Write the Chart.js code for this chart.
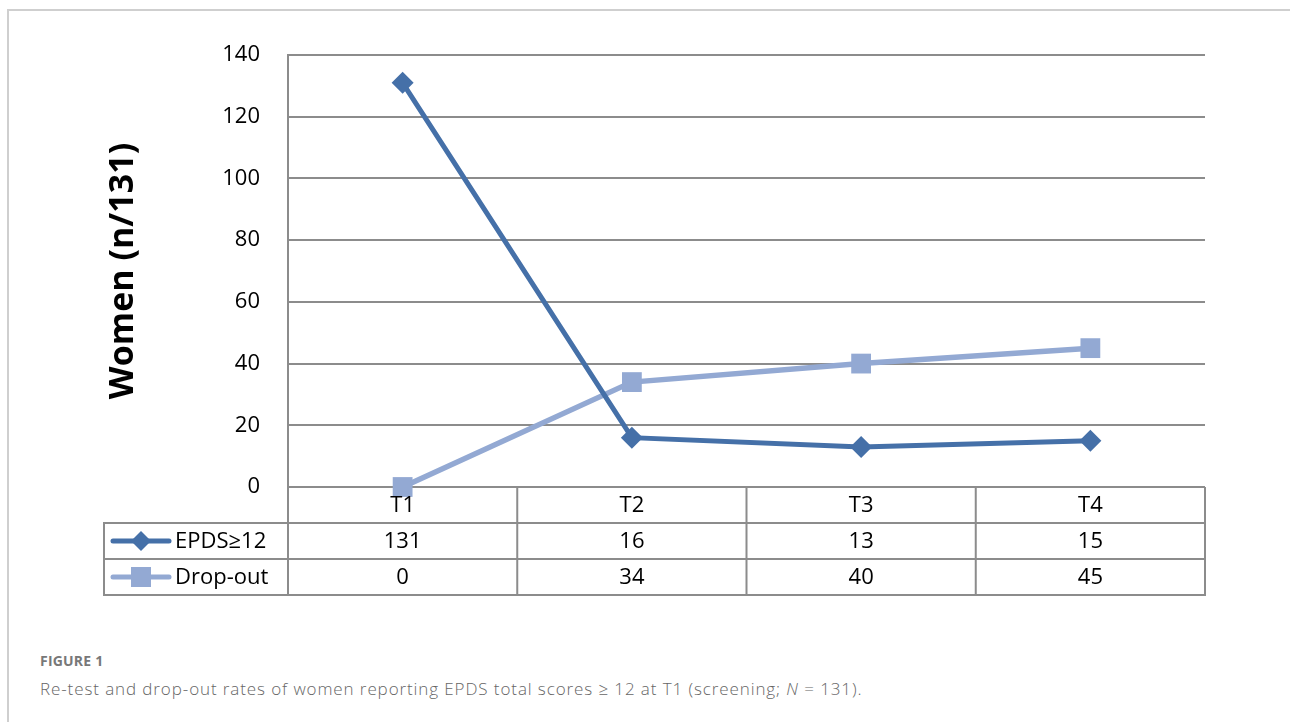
<!DOCTYPE html>
<html>
<head>
<meta charset="utf-8">
<script src="https://cdn.jsdelivr.net/npm/chart.js@4.4.1/dist/chart.umd.min.js"></script>
<style>
  html, body { margin: 0; padding: 0; background: #fff; width: 1290px; height: 722px; overflow: hidden; }
  #frame { position: absolute; left: 7px; top: 9px; width: 1320px; height: 800px;
           border-top: 2px solid #cfcfcf; border-left: 2px solid #cfcfcf; }
  #wrap { position: absolute; left: 0; top: 0; width: 1290px; height: 620px; }
  #fig { position: absolute; left: 40px; top: 651px; font: 700 14px 'Open Sans', sans-serif;
         color: #787878; letter-spacing: 0.2px; }
  #cap { position: absolute; left: 40px; top: 677px; font: 300 17px 'Open Sans', sans-serif;
         color: #666; white-space: nowrap; letter-spacing: 0.9px; }
</style>
</head>
<body>
<div id="frame"></div>
<div id="wrap"><canvas id="c" width="1290" height="620"></canvas></div>
<div id="fig">FIGURE 1</div>
<div id="cap">Re-test and drop-out rates of women reporting EPDS total scores ≥ 12 at T1 (screening; <i>N</i> = 131).</div>
<script>
// ---- data ----
const categories = ['T1', 'T2', 'T3', 'T4'];
const epdsValues = [131, 16, 13, 15];
const dropoutValues = [0, 34, 40, 45];
const seriesNames = ['EPDS≥12', 'Drop-out'];
const yMin = 0, yMax = 140, yStep = 20;
const yTitle = 'Women (n/131)';

const darkBlue = '#4570a8';
const lightBlue = '#93a9d3';
const lineGray = '#8c8c8c';
const FONT = "'Open Sans', sans-serif";

const tablePlugin = {
  id: 'dataTable',
  afterDraw(chart) {
    const ctx = chart.ctx;
    const xs = chart.scales.x, ys = chart.scales.y;
    const area = chart.chartArea;
    const top = ys.getPixelForValue(yMin);
    const rowH = 36;
    const legendLeft = 104;
    const colW = (area.right - area.left) / categories.length;
    const rows = [top, top + rowH, top + 2 * rowH, top + 3 * rowH];
    ctx.save();
    ctx.strokeStyle = lineGray;
    ctx.lineWidth = 2;
    ctx.beginPath();
    for (let r = 1; r < rows.length; r++) {
      ctx.moveTo(legendLeft, rows[r]);
      ctx.lineTo(area.right + 1, rows[r]);
    }
    for (let i = 0; i <= categories.length; i++) {
      const x = area.left + i * colW;
      ctx.moveTo(x, top);
      ctx.lineTo(x, rows[3] + 1);
    }
    ctx.moveTo(legendLeft, rows[1] - 1);
    ctx.lineTo(legendLeft, rows[3] + 1);
    ctx.stroke();

    ctx.fillStyle = '#000';
    ctx.font = '22px ' + FONT;
    ctx.textAlign = 'center';
    ctx.textBaseline = 'middle';
    const series = [epdsValues, dropoutValues];
    categories.forEach((c, i) => {
      const x = xs.getPixelForValue(i);
      ctx.fillText(c, x, (rows[0] + rows[1]) / 2 + 1);
      series.forEach((vals, s) => {
        ctx.fillText(String(vals[i]), x, (rows[s + 1] + rows[s + 2]) / 2 + 1);
      });
    });

    const colors = [darkBlue, lightBlue];
    seriesNames.forEach((name, s) => {
      const cy = (rows[s + 1] + rows[s + 2]) / 2;
      ctx.strokeStyle = colors[s];
      ctx.lineWidth = 5;
      ctx.lineCap = 'round';
      ctx.beginPath();
      ctx.moveTo(113, cy);
      ctx.lineTo(169, cy);
      ctx.stroke();
      ctx.fillStyle = colors[s];
      ctx.beginPath();
      if (s === 0) {
        const r = 10;
        ctx.moveTo(141, cy - r); ctx.lineTo(141 + r, cy); ctx.lineTo(141, cy + r); ctx.lineTo(141 - r, cy);
        ctx.closePath();
      } else {
        ctx.rect(141 - 10, cy - 10, 20, 20);
      }
      ctx.fill();
      ctx.fillStyle = '#000';
      ctx.textAlign = 'left';
      ctx.fillText(name, 175, cy + 1);
    });
    ctx.restore();
  }
};

new Chart(document.getElementById('c'), {
  type: 'line',
  data: {
    labels: categories,
    datasets: [
      {
        label: seriesNames[0], data: epdsValues,
        borderColor: darkBlue, backgroundColor: darkBlue, borderWidth: 5,
        pointStyle: 'rectRot', pointRadius: 11, pointBorderWidth: 0,
        pointBackgroundColor: darkBlue, tension: 0, clip: false
      },
      {
        label: seriesNames[1], data: dropoutValues,
        borderColor: lightBlue, backgroundColor: lightBlue, borderWidth: 5.5,
        pointStyle: 'rect', pointRadius: 14, pointBorderWidth: 0,
        pointBackgroundColor: lightBlue, tension: 0, clip: false
      }
    ]
  },
  options: {
    responsive: false,
    animation: false,
    events: [],
    layout: { padding: { left: 100, top: 55, right: 85, bottom: 133 } },
    plugins: { legend: { display: false }, tooltip: { enabled: false }, title: { display: false } },
    scales: {
      x: { type: 'category', display: false, offset: true },
      y: {
        min: yMin, max: yMax,
        ticks: { stepSize: yStep, color: '#000', font: { family: FONT, size: 22 }, padding: 28 },
        grid: { color: lineGray, lineWidth: 2, drawTicks: false },
        border: { display: true, color: lineGray, width: 2 },
        title: { display: true, text: yTitle, color: '#000',
                 font: { family: FONT, size: 34, weight: 'bold' }, padding: { top: 3, bottom: 0 } },
        afterFit(scale) { scale.width = 188; }
      }
    }
  },
  plugins: [tablePlugin]
});
</script>
</body>
</html>
